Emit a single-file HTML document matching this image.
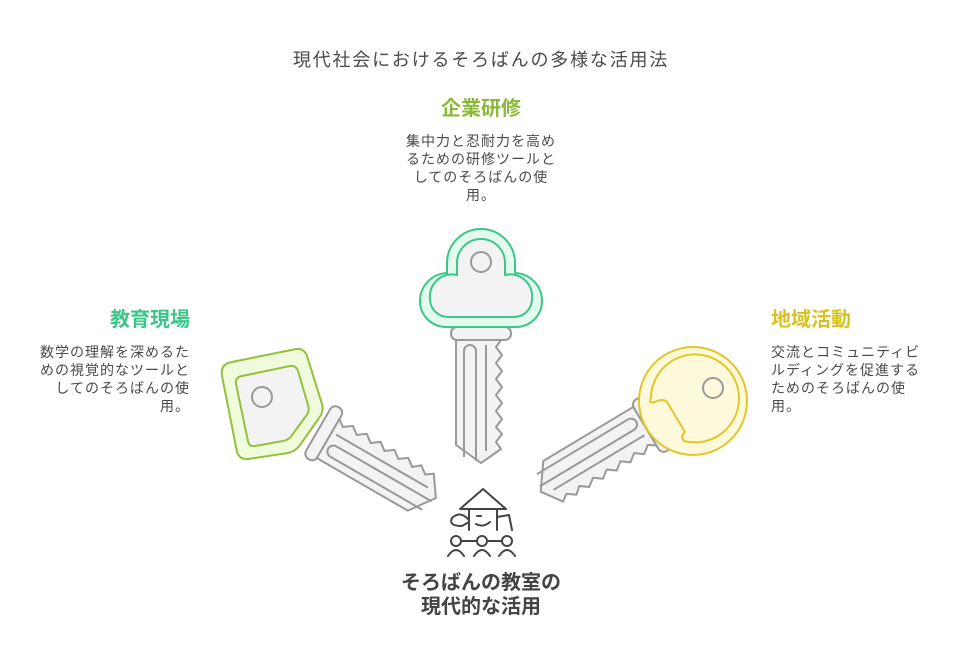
<!DOCTYPE html>
<html><head><meta charset="utf-8"><style>
html,body{margin:0;padding:0;background:#fff;}
svg{display:block;}
text{font-family:"Liberation Sans","Noto Sans CJK JP",sans-serif;}
.b{font-size:14px;fill:#4a4a4a;letter-spacing:1px;}
.h{font-size:20px;font-weight:bold;}
</style></head><body>
<svg width="962" height="668" viewBox="0 0 962 668" xmlns="http://www.w3.org/2000/svg">
<defs>
<g id="blade" fill="#f3f3f3" stroke="#999" stroke-width="2" stroke-linejoin="round">
  <rect x="-30" y="44" width="60" height="13" rx="6"/>
  <path d="M-25,57 L-25,162 L0,180 L20,166 L15,159 L21,151 L15,144 L21,136 L15,128 L21,120 L15,112 L21,104 L15,96 L21,88 L15,80 L21,72 L15,64 L20,57 Z"/>
  <path d="M-17,174 V68 A6,6 0 0 1 -5,68 V178" fill="none"/>
  <path d="M5,62 V168" fill="none"/>
</g>
</defs>

<text x="481" y="66" text-anchor="middle" style="font-size:18px;fill:#4a4a4a;letter-spacing:1.8px">現代社会におけるそろばんの多様な活用法</text>

<text x="481" y="115" text-anchor="middle" class="h" fill="#8cb83a">企業研修</text>
<text x="481" y="146" text-anchor="middle" class="b">集中力と忍耐力を高め</text>
<text x="481" y="164" text-anchor="middle" class="b">るための研修ツールと</text>
<text x="481" y="182" text-anchor="middle" class="b">してのそろばんの使</text>
<text x="481" y="200" text-anchor="middle" class="b">用。</text>

<text x="190" y="326" text-anchor="end" class="h" fill="#3cc68a">教育現場</text>
<text x="190" y="357" text-anchor="end" class="b">数学の理解を深めるた</text>
<text x="190" y="375" text-anchor="end" class="b">めの視覚的なツールと</text>
<text x="190" y="393" text-anchor="end" class="b">してのそろばんの使</text>
<text x="190" y="411" text-anchor="end" class="b">用。</text>

<text x="771" y="326" class="h" fill="#d9c21c">地域活動</text>
<text x="771" y="357" class="b">交流とコミュニティビ</text>
<text x="771" y="375" class="b">ルディングを促進する</text>
<text x="771" y="393" class="b">ためのそろばんの使</text>
<text x="771" y="411" class="b">用。</text>

<!-- center key -->
<g transform="translate(481,283)">
  <use href="#blade"/>
  <path d="M-34,-10 L-34,-20 A34,34 0 0 1 34,-20 L34,-10 A28,28 0 0 1 61,18 A26,26 0 0 1 35,44 L-35,44 A26,26 0 0 1 -61,18 A28,28 0 0 1 -34,-10 Z" fill="#e3fbee" stroke="#3cc68a" stroke-width="2"/>
  <path d="M-24,-8 L-24,-20 A24,24 0 0 1 24,-20 L24,-8 A22,22 0 0 1 51,16 A18,18 0 0 1 33,34 L-33,34 A18,18 0 0 1 -51,16 A22,22 0 0 1 -24,-8 Z" fill="#f3f3f3" stroke="#3cc68a" stroke-width="2"/>
  <circle cx="0" cy="-21" r="10" fill="#f3f3f3" stroke="#999" stroke-width="2"/>
</g>

<!-- left key -->
<g transform="translate(280,408) rotate(-60)">
  <use href="#blade"/>
</g>
<path d="M232,362 L296,349 Q304,348 307,356 L322,404 Q324,412 319,418 L300,445 Q296,451 288,453 L248,459 Q240,460 237,452 L222,376 Q220,364 232,362 Z" fill="#f0fadc" stroke="#93c13c" stroke-width="2"/>
<path d="M242,376 L290,366 Q296,365 298,371 L308,405 Q310,411 306,416 L292,435 Q289,440 283,441 L255,446 Q249,447 248,441 L236,384 Q235,377 242,376 Z" fill="#f3f3f3" stroke="#93c13c" stroke-width="2"/>
<circle cx="262" cy="397" r="10" fill="#f3f3f3" stroke="#999" stroke-width="2"/>

<!-- right key -->
<g transform="translate(695,399) rotate(59)">
  <use href="#blade"/>
</g>
<circle cx="693" cy="401" r="54" fill="#fff9dc" stroke="#e0c62a" stroke-width="2"/>
<path d="M651,398 A44,44 0 1 1 684,441 Q680,436 685,432 L667,402 Q663,398 655,402 Q648,404 651,398 Z" fill="#fff9dc" stroke="#e0c62a" stroke-width="2"/>
<circle cx="713" cy="388" r="10" fill="#fff9dc" stroke="#999" stroke-width="2"/>

<!-- teacher icon -->
<g fill="none" stroke="#444" stroke-width="2" stroke-linecap="round" stroke-linejoin="round">
  <path d="M460,509 L483,489 L506,509 Z"/>
  <path d="M469,509 V530 M497,509 V530"/>
  <path d="M477,516 H481 M476,524 Q483,528 490,522"/>
  <path d="M469,520 Q460,510 452,518 Q448,526 462,526 L469,522"/>
  <path d="M497,517 L509,515 L512,530"/>
  <circle cx="456" cy="541" r="5"/><circle cx="482" cy="541" r="5"/><circle cx="507" cy="541" r="5"/>
  <path d="M461,541 H477 M487,541 H502"/>
  <path d="M448,556 Q456,544 464,556 M474,556 Q482,544 490,556 M499,556 Q507,544 515,556"/>
</g>

<text x="481" y="589" text-anchor="middle" class="h" fill="#444">そろばんの教室の</text>
<text x="481" y="613" text-anchor="middle" class="h" fill="#444">現代的な活用</text>
</svg>
</body></html>
